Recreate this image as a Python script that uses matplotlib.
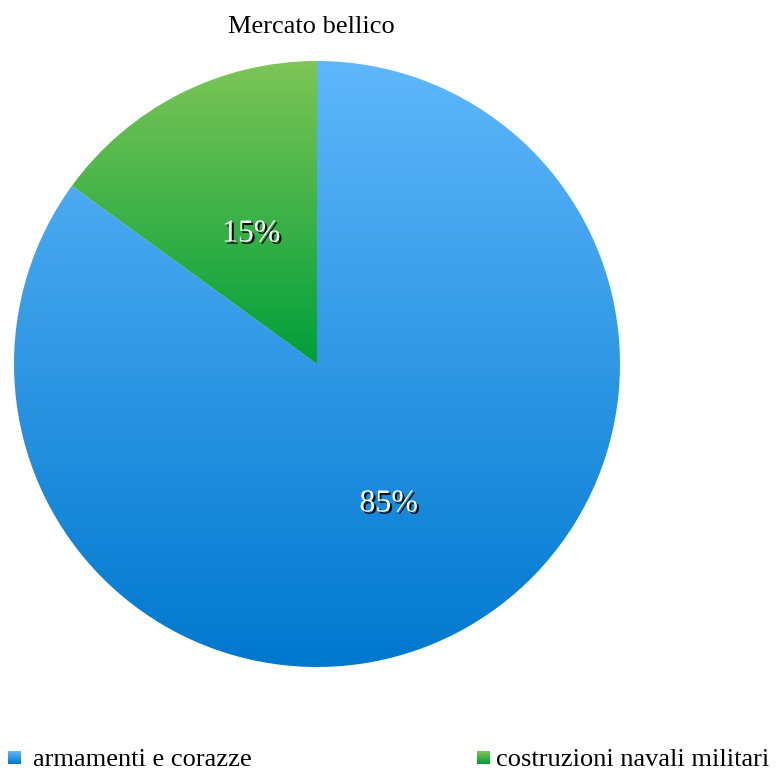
import matplotlib
matplotlib.use('Agg')
import matplotlib.pyplot as plt
import matplotlib.patheffects as pe
from matplotlib.colors import LinearSegmentedColormap
import numpy as np

plt.rcParams['font.family'] = ['Liberation Serif', 'DejaVu Serif']

#%% dati
titolo = 'Mercato bellico'
etichette = ['armamenti e corazze', 'costruzioni navali militari']
valori = [85, 15]
# colori del gradiente (alto, basso) per ogni fetta
col_alto = ['#5fb7fa', '#7dc556']
col_basso = ['#0078cf', '#009f3b']

#%% figura in coordinate pixel
W, H = 776, 773
fig = plt.figure(figsize=(W/100, H/100), dpi=100)
ax = fig.add_axes([0, 0, 1, 1])

cx, cy, r = 317, H - 364, 303

wedges, _, autotexts = ax.pie(valori, startangle=90, counterclock=False,
                              center=(cx, cy), radius=r, frame=True,
                              autopct='%1.0f%%', pctdistance=0.5,
                              textprops=dict(fontsize=23, color='white'))
ax.set_xlim(0, W)
ax.set_ylim(0, H)
ax.set_aspect('equal')
ax.axis('off')

# riempimento a gradiente verticale dentro ogni fetta
for w, c1, c2 in zip(wedges, col_alto, col_basso):
    w.set_facecolor('none')
    w.set_edgecolor('none')
    bb = w.get_path().get_extents(w.get_transform())
    inv = ax.transData.inverted()
    (x0, y0), (x1, y1) = inv.transform([[bb.x0, bb.y0], [bb.x1, bb.y1]])
    cmap = LinearSegmentedColormap.from_list('g', [c2, c1])
    grad = np.linspace(0, 1, 256).reshape(-1, 1)
    im = ax.imshow(grad, cmap=cmap, origin='lower', aspect='auto',
                   extent=(x0, x1, y0, y1), zorder=0.5)
    im.set_clip_path(w)

for t in autotexts:
    x, y = t.get_position()
    t.set_position((x + 3, y - 5))
    t.set_zorder(5)
    t.set_path_effects([pe.SimplePatchShadow(offset=(1.5, -1.5), shadow_rgbFace='black', alpha=0.9),
                        pe.Normal()])

ax.text(311, H - 27, titolo, fontsize=19, ha='center', va='center', color='black')

# legenda
leg_x = [8, 477]
leg_tx = [33, 496]
for lx, tx, lab, c1, c2 in zip(leg_x, leg_tx, etichette, col_alto, col_basso):
    cmap = LinearSegmentedColormap.from_list('g', [c2, c1])
    grad = np.linspace(0, 1, 32).reshape(-1, 1)
    ax.imshow(grad, cmap=cmap, origin='lower', aspect='auto',
              extent=(lx, lx + 13, H - 764, H - 751), zorder=1)
    ax.text(tx, H - 760, lab, fontsize=19, ha='left', va='center', color='black')

ax.set_xlim(0, W)
ax.set_ylim(0, H)
fig.savefig('out.png', dpi=100)
